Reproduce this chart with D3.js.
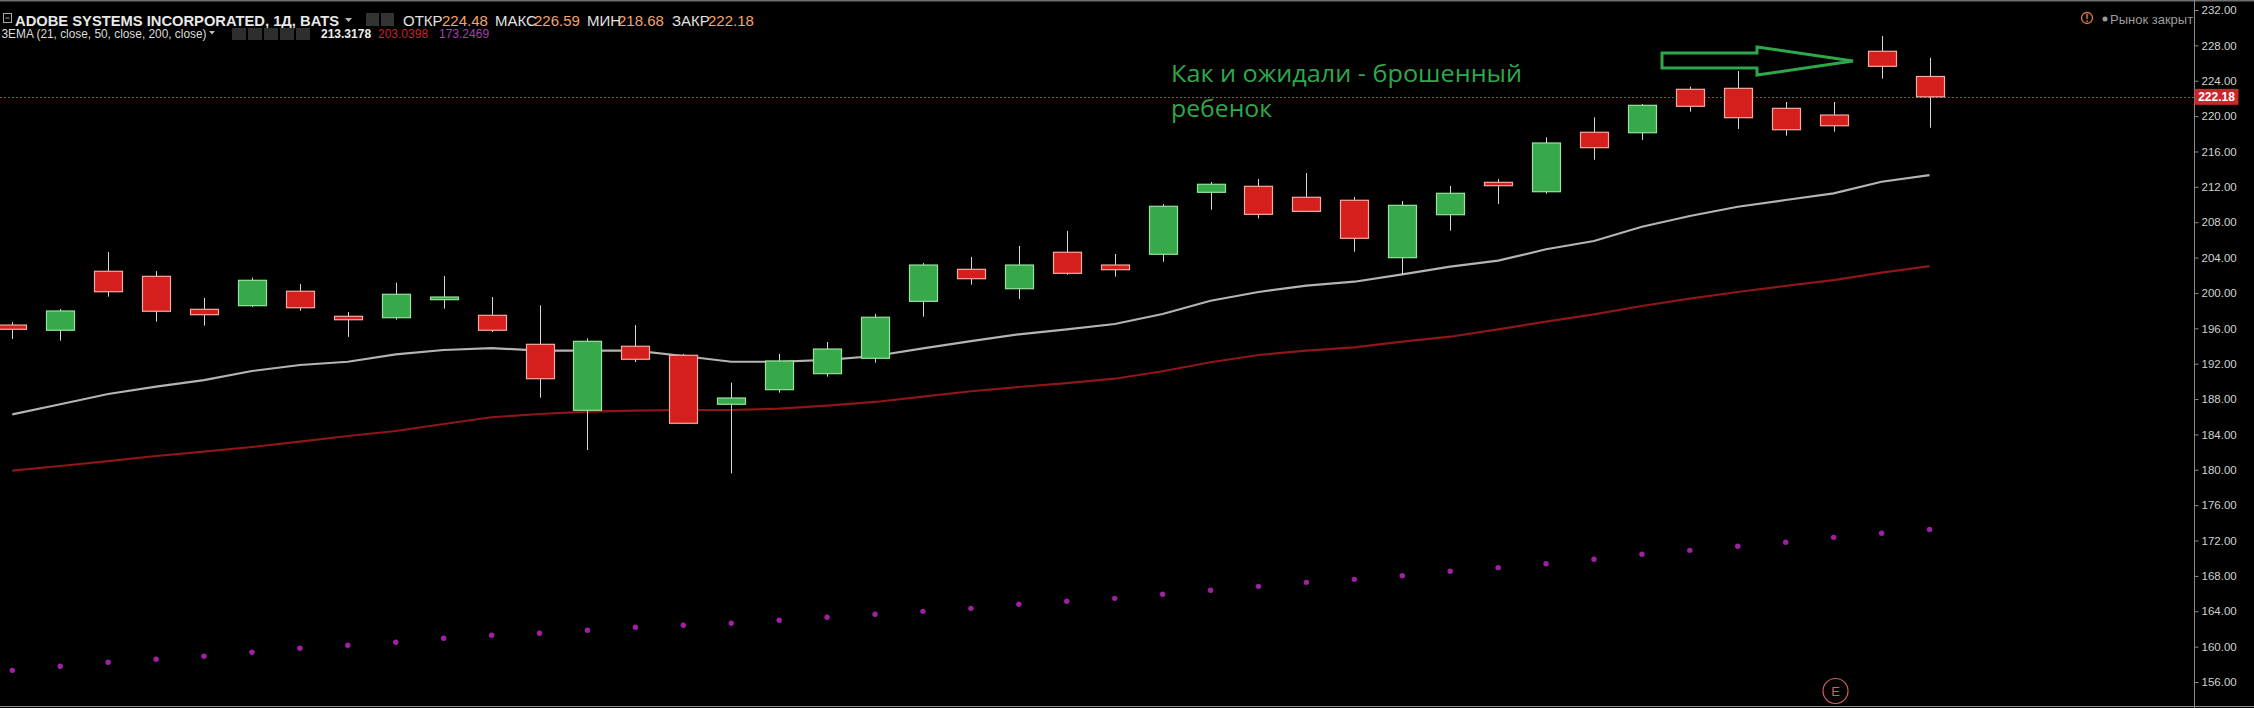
<!DOCTYPE html>
<html>
<head>
<meta charset="utf-8">
<script src="https://d3js.org/d3.v7.min.js"></script>
<style>
  html, body { margin: 0; padding: 0; background: #000; overflow: hidden; }
  svg { display: block; }
</style>
</head>
<body>
<div id="chart"></div>
<script>
// set the dimensions of the chart
var width = 2254,
    height = 708,
    axisX = 2194.5

// daily candles (index of the trading day)
var days = d3.range(41)

var open  = [196.37, 195.78, 202.45, 201.88, 198.15, 198.56, 200.19, 197.36, 197.20, 199.24,
             197.47, 194.19, 186.73, 193.97, 192.95, 187.41, 189.06, 190.87, 192.61, 199.05,
             202.67, 200.48, 204.60, 203.16, 204.37, 211.38, 212.06, 210.82, 210.48, 203.99,
             208.85, 212.51, 211.45, 218.17, 218.12, 223.03, 223.14, 220.88, 220.12, 227.33, 224.48]
var high  = [196.71, 198.18, 204.63, 202.48, 199.43, 201.73, 201.01, 197.84, 201.16, 201.92,
             199.54, 198.60, 194.87, 196.37, 193.10, 189.85, 193.10, 194.45, 197.62, 203.39,
             204.07, 205.31, 207.01, 204.40, 210.05, 212.55, 212.89, 213.57, 210.85, 210.40,
             212.09, 212.89, 217.60, 219.86, 221.37, 223.33, 225.10, 221.60, 221.60, 229.06, 226.59]
var low   = [194.79, 194.60, 199.58, 196.75, 196.30, 198.41, 197.99, 195.02, 196.97, 198.22,
             195.58, 188.15, 182.24, 192.19, 185.20, 179.60, 188.72, 190.53, 192.11, 197.31,
             200.93, 199.31, 202.05, 201.84, 203.53, 209.41, 208.44, 209.15, 204.66, 202.03,
             207.04, 210.06, 211.22, 215.07, 217.30, 220.50, 218.54, 217.78, 218.24, 224.23, 218.68]
var close = [195.89, 197.96, 200.14, 197.93, 197.54, 201.43, 198.33, 196.97, 199.85, 199.54,
             195.78, 190.30, 194.53, 192.50, 185.26, 188.12, 192.30, 193.66, 197.25, 203.16,
             201.61, 203.16, 202.22, 202.63, 209.80, 212.29, 208.89, 209.23, 206.18, 209.91,
             211.27, 212.13, 216.96, 216.43, 221.22, 221.11, 219.82, 218.46, 218.91, 225.63, 222.18]

// moving averages
var ema21  = [186.27, 187.41, 188.57, 189.40, 190.15, 191.17, 191.85, 192.22, 193.06, 193.55,
              193.77, 193.47, 193.47, 193.47, 192.87, 192.22, 192.22, 192.42, 192.87, 193.74,
              194.56, 195.32, 195.89, 196.49, 197.62, 199.12, 200.11, 200.82, 201.27, 202.11,
              202.97, 203.65, 204.94, 205.87, 207.49, 208.70, 209.75, 210.51, 211.27, 212.58, 213.32]
var ema50  = [179.90, 180.43, 180.99, 181.56, 182.05, 182.58, 183.18, 183.82, 184.39, 185.18,
              185.94, 186.31, 186.57, 186.68, 186.76, 186.76, 186.91, 187.25, 187.67, 188.27,
              188.88, 189.36, 189.81, 190.30, 191.14, 192.16, 192.98, 193.47, 193.85, 194.49,
              195.05, 195.89, 196.75, 197.58, 198.52, 199.35, 200.11, 200.79, 201.46, 202.29, 203.04]
var ema200 = [157.32, 157.78, 158.23, 158.57, 158.91, 159.36, 159.81, 160.15, 160.49, 160.94,
              161.28, 161.51, 161.85, 162.19, 162.41, 162.64, 162.98, 163.32, 163.66, 163.99,
              164.33, 164.79, 165.13, 165.46, 165.92, 166.37, 166.82, 167.27, 167.61, 168.02,
              168.52, 168.93, 169.38, 169.88, 170.44, 170.89, 171.35, 171.80, 172.36, 172.82, 173.25]

var priceTicks = [156, 160, 164, 168, 172, 176, 180, 184, 188, 192, 196, 200,
                  204, 208, 212, 216, 220, 224, 228, 232]
var lastPrice = 222.18

var headerLabels = ["ОТКР", "МАКС", "МИН", "ЗАКР"]
var headerValues = ["224.48", "226.59", "218.68", "222.18"]
var emaValues = ["213.3178", "203.0398", "173.2469"]

var font = "'Liberation Sans', Arial, sans-serif"

var svg = d3.select("#chart")
  .append("svg")
    .attr("width", width)
    .attr("height", height)
    .style("background", "#000")

// scales
var x = d3.scaleLinear().domain([0, 40]).range([12.3, 1929.5])
var y = d3.scaleLinear().domain([156, 232]).range([682, 10])

var candles = days.map(function(d, i) {
  return {i: d, o: open[i], h: high[i], l: low[i], c: close[i]}
})

// frame lines
svg.append("line")
  .attr("x1", 0).attr("x2", width).attr("y1", 0.75).attr("y2", 0.75)
  .attr("stroke", "#6e6e6e").attr("stroke-width", 1.5)
svg.append("line")
  .attr("x1", 0).attr("x2", width).attr("y1", 706.5).attr("y2", 706.5)
  .attr("stroke", "#8a8a8a").attr("stroke-width", 1)

// last price dotted line
svg.append("line")
  .attr("x1", 0).attr("x2", axisX)
  .attr("y1", Math.round(y(lastPrice)) + 0.5).attr("y2", Math.round(y(lastPrice)) + 0.5)
  .attr("stroke", "#c53a3a")
  .attr("stroke-dasharray", "2,2")
  .attr("stroke-width", 1)

// EMA 200 dots
svg.selectAll(".ema200")
  .data(ema200)
  .enter()
  .append("circle")
    .attr("class", "ema200")
    .attr("cx", function(d, i) { return x(i) })
    .attr("cy", function(d) { return y(d) })
    .attr("r", 2.7)
    .attr("fill", "#a01fa3")

// EMA lines
var line = d3.line()
  .x(function(d, i) { return x(i) })
  .y(function(d) { return y(d) })

svg.append("path")
  .attr("d", line(ema50))
  .attr("fill", "none")
  .attr("stroke", "#8e1619")
  .attr("stroke-width", 2.2)

svg.append("path")
  .attr("d", line(ema21))
  .attr("fill", "none")
  .attr("stroke", "#b4b4b4")
  .attr("stroke-width", 2.2)

// candles: wicks first, then bodies
svg.selectAll(".wick")
  .data(candles)
  .enter()
  .append("line")
    .attr("class", "wick")
    .attr("x1", function(d) { return Math.round(x(d.i)) + 0.5 })
    .attr("x2", function(d) { return Math.round(x(d.i)) + 0.5 })
    .attr("y1", function(d) { return y(d.h) })
    .attr("y2", function(d) { return y(d.l) })
    .attr("stroke", "#d6d6d6")
    .attr("stroke-width", 1)

svg.selectAll(".body")
  .data(candles)
  .enter()
  .append("rect")
    .attr("class", "body")
    .attr("x", function(d) { return Math.round(x(d.i)) - 13.5 })
    .attr("width", 28)
    .attr("y", function(d) { return y(Math.max(d.o, d.c)) })
    .attr("height", function(d) { return Math.max(2, Math.abs(y(d.o) - y(d.c))) })
    .attr("fill", function(d) { return d.c >= d.o ? "#38a94a" : "#d41f1d" })
    .attr("stroke", function(d) { return d.c >= d.o ? "#96e39a" : "#f5aaa2" })
    .attr("stroke-width", 1.2)

// price axis on the right
var axis = svg.append("g")
  .attr("transform", "translate(" + axisX + ",0)")
  .call(d3.axisRight(y)
    .tickValues(priceTicks)
    .tickSize(4)
    .tickSizeOuter(0)
    .tickPadding(3)
    .tickFormat(d3.format(".2f")))
axis.select(".domain").remove()
axis.selectAll(".tick line").attr("stroke", "#8a8a8a")
axis.selectAll(".tick text")
  .attr("fill", "#d2d2d2")
  .style("font-family", font)
  .style("font-size", "11.5px")
svg.append("line")
  .attr("x1", axisX).attr("x2", axisX).attr("y1", 0).attr("y2", height)
  .attr("stroke", "#8a8a8a").attr("stroke-width", 1)

// last price label
svg.append("rect")
  .attr("x", axisX).attr("y", y(lastPrice) - 8)
  .attr("width", 44).attr("height", 16)
  .attr("fill", "#c8282a")
svg.append("text")
  .attr("x", axisX + 22).attr("y", y(lastPrice) + 4.5)
  .attr("text-anchor", "middle")
  .attr("fill", "#fff")
  .style("font-family", font)
  .style("font-size", "12px")
  .style("font-weight", "bold")
  .text(d3.format(".2f")(lastPrice))

// header, line 1
svg.append("rect")
  .attr("x", 3.5).attr("y", 13.5).attr("width", 8).attr("height", 9)
  .attr("fill", "none").attr("stroke", "#aaa").attr("stroke-width", 1)
svg.append("line")
  .attr("x1", 5.5).attr("x2", 9.5).attr("y1", 18).attr("y2", 18)
  .attr("stroke", "#aaa")

svg.append("text")
  .attr("x", 15).attr("y", 26)
  .attr("fill", "#e8e8e8")
  .attr("textLength", 324)
  .attr("lengthAdjust", "spacingAndGlyphs")
  .style("font-family", font)
  .style("font-size", "15px")
  .style("font-weight", "bold")
  .text("ADOBE SYSTEMS INCORPORATED, 1Д, BATS")

svg.append("path")
  .attr("d", "M345,18 L352,18 L348.5,22 Z")
  .attr("fill", "#bbb")

svg.selectAll(".icon1")
  .data([366, 381])
  .enter()
  .append("rect")
    .attr("x", function(d) { return d }).attr("y", 13)
    .attr("width", 13).attr("height", 13)
    .attr("fill", "#333")

var labelX = [403, 495, 587, 672]
var valueX = [442, 534, 618, 708]
headerLabels.forEach(function(t, i) {
  svg.append("text")
    .attr("x", labelX[i]).attr("y", 26)
    .attr("fill", "#e2e2e2")
    .style("font-family", font)
    .style("font-size", "15px")
    .text(t)
  svg.append("text")
    .attr("x", valueX[i]).attr("y", 26)
    .attr("fill", "#f2a46e")
    .style("font-family", font)
    .style("font-size", "15px")
    .text(headerValues[i])
})

// header, line 2
svg.append("text")
  .attr("x", 1.5).attr("y", 38)
  .attr("fill", "#dcdcdc")
  .attr("textLength", 205)
  .attr("lengthAdjust", "spacingAndGlyphs")
  .style("font-family", font)
  .style("font-size", "12px")
  .text("3EMA (21, close, 50, close, 200, close)")

svg.append("path")
  .attr("d", "M209,31 L215,31 L212,34.5 Z")
  .attr("fill", "#bbb")

svg.selectAll(".icon2")
  .data([232, 248, 264, 280, 296])
  .enter()
  .append("rect")
    .attr("x", function(d) { return d }).attr("y", 28)
    .attr("width", 14).attr("height", 12)
    .attr("fill", "#2e2e2e")

var emaX = [321, 378, 439]
var emaColors = ["#eeeeee", "#c0272d", "#a63fb0"]
emaValues.forEach(function(t, i) {
  svg.append("text")
    .attr("x", emaX[i]).attr("y", 38)
    .attr("fill", emaColors[i])
    .style("font-family", font)
    .style("font-size", "12px")
    .style("font-weight", i == 0 ? "bold" : "normal")
    .text(t)
})

// market status
svg.append("circle")
  .attr("cx", 2087).attr("cy", 18).attr("r", 5.5)
  .attr("fill", "none").attr("stroke", "#e07a4c").attr("stroke-width", 1.3)
svg.append("text")
  .attr("x", 2087).attr("y", 22)
  .attr("text-anchor", "middle")
  .attr("fill", "#e07a4c")
  .style("font-family", font)
  .style("font-size", "10px")
  .style("font-weight", "bold")
  .text("!")
svg.append("circle")
  .attr("cx", 2105).attr("cy", 19).attr("r", 2.5)
  .attr("fill", "#9a9a9a")
svg.append("text")
  .attr("x", 2110).attr("y", 23.5)
  .attr("fill", "#9c9c9c")
  .style("font-family", font)
  .style("font-size", "13px")
  .text("Рынок закрыт")

// annotation
svg.append("text")
  .attr("x", 1171).attr("y", 82)
  .attr("fill", "#2fa84b")
  .attr("textLength", 351)
  .attr("lengthAdjust", "spacingAndGlyphs")
  .style("font-family", "'Open Sans', 'Noto Sans', sans-serif")
  .style("font-size", "23px")
  .text("Как и ожидали - брошенный")
svg.append("text")
  .attr("x", 1171).attr("y", 117)
  .attr("fill", "#2fa84b")
  .attr("textLength", 101)
  .attr("lengthAdjust", "spacingAndGlyphs")
  .style("font-family", "'Open Sans', 'Noto Sans', sans-serif")
  .style("font-size", "23px")
  .text("ребенок")

// outlined arrow pointing at the gap candle
svg.append("path")
  .attr("d", "M1662,53 L1757,53 L1757,47 L1853,61 L1757,75 L1757,68 L1662,68 Z")
  .attr("fill", "none")
  .attr("stroke", "#2fa84b")
  .attr("stroke-width", 3)
  .attr("stroke-linejoin", "miter")

// earnings marker
svg.append("circle")
  .attr("cx", 1835.5).attr("cy", 691).attr("r", 12.5)
  .attr("fill", "none").attr("stroke", "#d0625e").attr("stroke-width", 1.2)
svg.append("text")
  .attr("x", 1835.5).attr("y", 696)
  .attr("text-anchor", "middle")
  .attr("fill", "#d0625e")
  .style("font-family", font)
  .style("font-size", "13px")
  .text("E")
</script>
</body>
</html>
